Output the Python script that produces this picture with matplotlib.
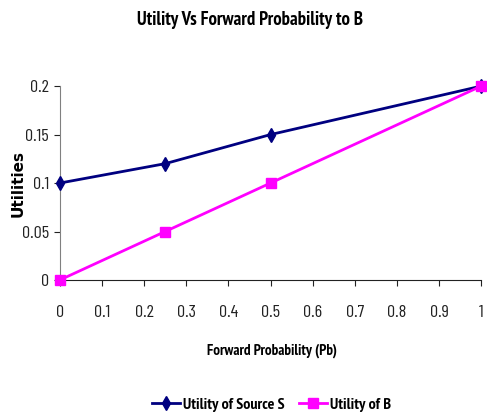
import matplotlib.pyplot as plt

# forward probability to B and the resulting utilities
forward_prob = [0, 0.25, 0.5, 1.0]
utility_source = [0.10, 0.12, 0.15, 0.20]
utility_b = [0.0, 0.05, 0.10, 0.20]

x_ticks = [0, 0.1, 0.2, 0.3, 0.4, 0.5, 0.6, 0.7, 0.8, 0.9, 1]
y_ticks = [0, 0.05, 0.1, 0.15, 0.2]

tick_font = ['Barlow Condensed', 'DejaVu Sans']
label_font = ['PT Sans Narrow', 'DejaVu Sans']
plt.rcParams['font.family'] = label_font

fig = plt.figure(figsize=(4.87, 4.16), dpi=100)
ax = fig.add_axes([0.123, 0.327, 0.865, 0.466])

ax.plot(forward_prob, utility_source, color='#000080', lw=2, marker='d',
        ms=7.5, label='Utility of Source S', clip_on=False, zorder=3)
ax.plot(forward_prob, utility_b, color='#ff00ff', lw=2, marker='s',
        ms=7, label='Utility of B', clip_on=False, zorder=3)

ax.set_xlim(0, 1)
ax.set_ylim(0, 0.2)
ax.set_xticks(x_ticks)
ax.set_xticklabels([f'{t:g}' for t in x_ticks])
ax.set_yticks(y_ticks)
ax.set_yticklabels([f'{t:g}' for t in y_ticks])
for lab in ax.get_xticklabels() + ax.get_yticklabels():
    lab.set_family(tick_font)
    lab.set_fontsize(13)
ax.tick_params(length=4, colors='#222222', width=0.8)
ax.tick_params(axis='x', pad=14)
ax.tick_params(axis='y', pad=4)

for side in ('top', 'right'):
    ax.spines[side].set_visible(False)
ax.spines['left'].set_color('#808080')
ax.spines['bottom'].set_color('#222222')

fig.text(0.514, 0.953, 'Utility Vs Forward Probability to B', ha='center',
         va='center', fontsize=13.5, fontweight='bold')
fig.text(0.558, 0.158, 'Forward Probability (Pb)', ha='center', va='center',
         fontsize=10.8, fontweight='bold')
fig.text(0.037, 0.56, 'Utilities', ha='center', va='center', rotation=90,
         fontsize=11, fontweight='bold', family='DejaVu Sans')

fig.legend(loc='center', bbox_to_anchor=(0.557, 0.027), ncol=2,
           frameon=False, handlelength=1.8, columnspacing=0.9,
           handletextpad=0.15, prop={'family': label_font, 'weight': 'bold', 'size': 11.5})

fig.savefig('out.png', dpi=100)
